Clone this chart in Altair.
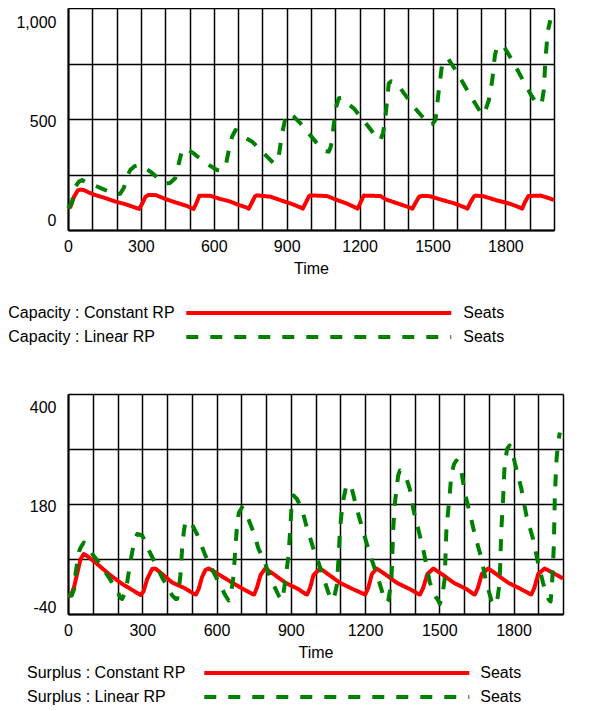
import altair as alt
import pandas as pd

# ---------------- data ----------------
cap_const = [(0, 98), (10, 104), (25, 150), (40, 178), (50, 182), (65, 180), (80, 172), (105, 160),
             (150, 145), (195, 128), (240, 115), (284, 98), (293, 95),
             (305, 118), (318, 148), (330, 158), (362, 157), (400, 140), (449, 122), (490, 108), (510, 98), (517, 95),
             (528, 120), (540, 154), (586, 154), (620, 142), (668, 128), (700, 114), (738, 100), (744, 96),
             (755, 120), (770, 152), (778, 156), (833, 150), (880, 132), (920, 118), (960, 100), (966, 96),
             (978, 122), (992, 152), (998, 156), (1066, 153), (1100, 138), (1150, 118), (1185, 100), (1192, 96),
             (1203, 122), (1217, 155), (1286, 153), (1307, 138), (1350, 122), (1410, 100), (1417, 96),
             (1430, 122), (1445, 150), (1458, 154), (1490, 152), (1540, 135), (1590, 120), (1637, 100), (1644, 96),
             (1655, 122), (1670, 150), (1677, 155), (1710, 152), (1760, 135), (1820, 118), (1862, 100), (1869, 96),
             (1880, 125), (1895, 153), (1945, 155), (1975, 145), (2000, 135)]

cap_linear = [(0, 98), (15, 120), (30, 195), (45, 218), (58, 225), (75, 215), (105, 203), (147, 183),
              (195, 160), (215, 163), (230, 190), (243, 240), (256, 270), (275, 288), (291, 293), (315, 280),
              (339, 263), (380, 225), (400, 210), (420, 212), (441, 233), (456, 300), (466, 345), (476, 368),
              (490, 365), (517, 345), (558, 308), (613, 270), (630, 268), (648, 285), (660, 350), (675, 420),
              (689, 450), (700, 445), (723, 420), (758, 398), (806, 345), (847, 300), (858, 305), (867, 330),
              (881, 435), (895, 505), (909, 525), (930, 510), (957, 480), (991, 435), (1025, 390), (1060, 355),
              (1073, 353), (1080, 370), (1087, 405), (1094, 480), (1105, 560), (1114, 593), (1130, 595),
              (1150, 570), (1176, 548), (1231, 473), (1275, 410), (1286, 405), (1297, 440), (1307, 518),
              (1320, 660), (1330, 670), (1345, 660), (1368, 638), (1423, 555), (1464, 503), (1485, 473),
              (1500, 478), (1512, 495), (1526, 630), (1540, 750), (1552, 770), (1565, 770), (1595, 720),
              (1643, 630), (1684, 555), (1705, 518), (1718, 540), (1732, 585), (1746, 675), (1757, 788),
              (1766, 826), (1780, 830), (1794, 826), (1835, 751), (1883, 653), (1910, 600), (1930, 570),
              (1942, 563), (1950, 575), (1958, 630), (1965, 773), (1975, 900), (1985, 945)]

sur_const = [(0, -3), (12, -3), (25, 15), (38, 43), (51, 70), (64, 80), (80, 75), (111, 63), (165, 40),
             (219, 20), (260, 8), (293, -2), (305, 5), (320, 30), (340, 50), (353, 51), (380, 40), (421, 23),
             (470, 12), (510, 0), (517, -1), (528, 10), (541, 33), (555, 48), (568, 51), (600, 42), (649, 27),
             (700, 12), (745, 0), (752, -1), (763, 12), (778, 38), (797, 51), (830, 40), (880, 22), (930, 10),
             (960, 0), (966, -1), (978, 12), (992, 38), (1019, 51), (1050, 40), (1100, 22), (1150, 10),
             (1195, 0), (1201, -1), (1213, 12), (1228, 40), (1247, 51), (1280, 40), (1330, 22), (1380, 10),
             (1416, 0), (1422, -1), (1435, 12), (1452, 40), (1476, 51), (1510, 40), (1560, 22), (1610, 10),
             (1638, 0), (1644, -1), (1656, 12), (1672, 40), (1698, 51), (1730, 40), (1780, 22), (1830, 10),
             (1866, 0), (1872, -1), (1884, 12), (1900, 40), (1926, 51), (1960, 42), (2000, 31)]

sur_linear = [(0, -3), (15, -3), (25, 10), (31, 43), (45, 85), (51, 93), (64, 103), (80, 95), (98, 80),
              (125, 63), (165, 33), (199, 7), (212, -8), (219, -10), (228, 0), (239, 23), (249, 55), (259, 83),
              (270, 110), (280, 120), (300, 117), (327, 87), (347, 67), (380, 33), (421, -3), (436, -10),
              (441, -10), (448, 10), (454, 37), (461, 90), (468, 125), (474, 143), (488, 147), (500, 140),
              (521, 120), (555, 77), (595, 37), (636, -3), (649, -13), (660, 5), (669, 37), (676, 90),
              (683, 137), (690, 162), (703, 173), (723, 157), (750, 123), (770, 90), (790, 70), (817, 33),
              (851, -3), (864, -13), (870, 0), (877, 23), (891, 77), (898, 130), (904, 183), (911, 197),
              (925, 190), (945, 170), (965, 133), (992, 90), (1012, 63), (1052, 3), (1066, -13), (1076, -5),
              (1086, 17), (1093, 70), (1099, 130), (1106, 165), (1113, 190), (1126, 220), (1140, 215),
              (1147, 210), (1167, 170), (1194, 123), (1221, 77), (1254, 30), (1275, -5), (1288, -17),
              (1294, -13), (1300, 5), (1307, 30), (1314, 130), (1321, 183), (1334, 237), (1341, 247),
              (1355, 240), (1368, 230), (1381, 210), (1395, 170), (1415, 130), (1435, 90), (1462, 23),
              (1485, -5), (1496, -13), (1502, -20), (1512, -5), (1522, 30), (1529, 130), (1542, 197),
              (1549, 240), (1560, 260), (1569, 267), (1580, 260), (1589, 247), (1603, 203), (1623, 163),
              (1643, 120), (1671, 70), (1690, 23), (1711, -13), (1724, -23), (1735, -10), (1744, 23),
              (1751, 130), (1758, 190), (1764, 257), (1774, 290), (1784, 297), (1795, 285), (1805, 263),
              (1832, 210), (1852, 157), (1879, 110), (1899, 63), (1919, 23), (1935, -5), (1945, -13),
              (1950, -15), (1956, 23), (1963, 97), (1967, 197), (1974, 270), (1980, 300), (1987, 323)]

cap_names = ["Capacity : Constant RP", "Capacity : Linear RP"]
sur_names = ["Surplus : Constant RP", "Surplus : Linear RP"]
unit_label = "Seats"

x_grid = [0, 100, 200, 300, 400, 500, 600, 700, 800, 900, 1000, 1100, 1200, 1300, 1400, 1500, 1600,
          1700, 1800, 1900, 2000]
x_ticks = [0, 300, 600, 900, 1200, 1500, 1800]
cap_y_grid = [0, 250, 500, 750, 1000]
cap_y_ticks = [0, 500, 1000]
sur_y_grid = [-40, 70, 180, 290, 400]
sur_y_ticks = [-40, 180, 400]

# ---------------- styling ----------------
FONT = "Liberation Sans"
all_names = cap_names + sur_names
color_scale = alt.Scale(domain=all_names, range=["#ff0000", "#008000", "#ff0000", "#008000"])
dash_scale = alt.Scale(domain=all_names, range=[[1, 0], [12, 12], [1, 0], [12, 12]])


def frame(pairs_list, names):
    rows = []
    for pairs, name in zip(pairs_list, names):
        for t, v in pairs:
            rows.append({"time": t, "value": v, "series": name})
    return pd.DataFrame(rows)


def label_expr(ticks):
    arr = "[" + ",".join(str(t) for t in ticks) + "]"
    return "indexof(" + arr + ", datum.value) >= 0 ? replace(datum.label, '\u2212', '-') : ''"


def offsets(pairs, default):
    return {"condition": [{"test": "datum.value == %s" % v, "value": o} for v, o in pairs],
            "value": default}


def panel(df, ydom, ygrid, yticks, yfmt, offs, w, h):
    return alt.Chart(df).mark_line(strokeWidth=4, strokeJoin="round").encode(
        x=alt.X("time:Q", scale=alt.Scale(domain=[0, 2000], nice=False, zero=False),
                axis=alt.Axis(values=x_grid, labelExpr=label_expr(x_ticks), format="d", title="Time")),
        y=alt.Y("value:Q", scale=alt.Scale(domain=ydom, nice=False, zero=False),
                axis=alt.Axis(values=ygrid, labelExpr=label_expr(yticks), format=yfmt, title=None,
                              labelOffset=offs)),
        color=alt.Color("series:N", scale=color_scale, legend=None),
        strokeDash=alt.StrokeDash("series:N", scale=dash_scale, legend=None),
        detail="series:N",
    ).properties(width=w, height=h)


def legend(names, text_x, x1, x2, unit_x, w, h=48):
    ldf = pd.DataFrame({"series": names, "unit": [unit_label] * len(names)})
    y = alt.Y("series:N", axis=None, scale=alt.Scale(type="point", domain=names, padding=0.5))
    lab = alt.Chart(ldf).mark_text(align="left", baseline="middle", fontSize=16, font=FONT,
                                   color="black").encode(x=alt.value(text_x), y=y, text="series:N")
    line = alt.Chart(ldf).mark_rule(strokeWidth=4).encode(
        x=alt.value(x1), x2=alt.value(x2), y=y,
        color=alt.Color("series:N", scale=color_scale, legend=None),
        strokeDash=alt.StrokeDash("series:N", scale=dash_scale, legend=None))
    seats = alt.Chart(ldf).mark_text(align="left", baseline="middle", fontSize=16, font=FONT,
                                     color="black").encode(x=alt.value(unit_x), y=y, text="unit:N")
    return alt.layer(lab, line, seats).properties(width=w, height=h)


df_cap = frame([cap_const, cap_linear], cap_names)
df_sur = frame([sur_const, sur_linear], sur_names)

p1 = panel(df_cap, [0, 1000], cap_y_grid, cap_y_ticks, ",d", offsets([(1000, 14), (0, -10)], 2), 486, 222)
l1 = legend(cap_names, -59.7, 118.3, 383.3, 395.3, 486)
p2 = panel(df_sur, [-40, 400], sur_y_grid, sur_y_ticks, "d", offsets([(400, 13), (-40, -7)], 2), 495, 220)
l2 = legend(sur_names, -41, 136.3, 401.3, 412.3, 495)

top = alt.vconcat(p1, l1, spacing=24)
bottom = alt.vconcat(p2, l2, spacing=0)

chart = alt.vconcat(top, bottom, spacing=45).properties(padding=0).configure_view(
    strokeWidth=0
).configure_axis(
    labelFont=FONT, titleFont=FONT, labelFontSize=16, titleFontSize=16,
    labelColor="black", titleColor="black", titleFontWeight="normal",
    grid=True, gridColor="black", gridOpacity=1, gridWidth=1.5,
    domainColor="black", domainWidth=2, ticks=False, tickSize=0, labelOverlap=False,
).configure_axisX(
    labelPadding=8.5, titlePadding=6, labelFlush=False
).configure_axisY(
    labelPadding=12
)

chart.save("out.html", embed_options={"renderer": "svg", "actions": False})
